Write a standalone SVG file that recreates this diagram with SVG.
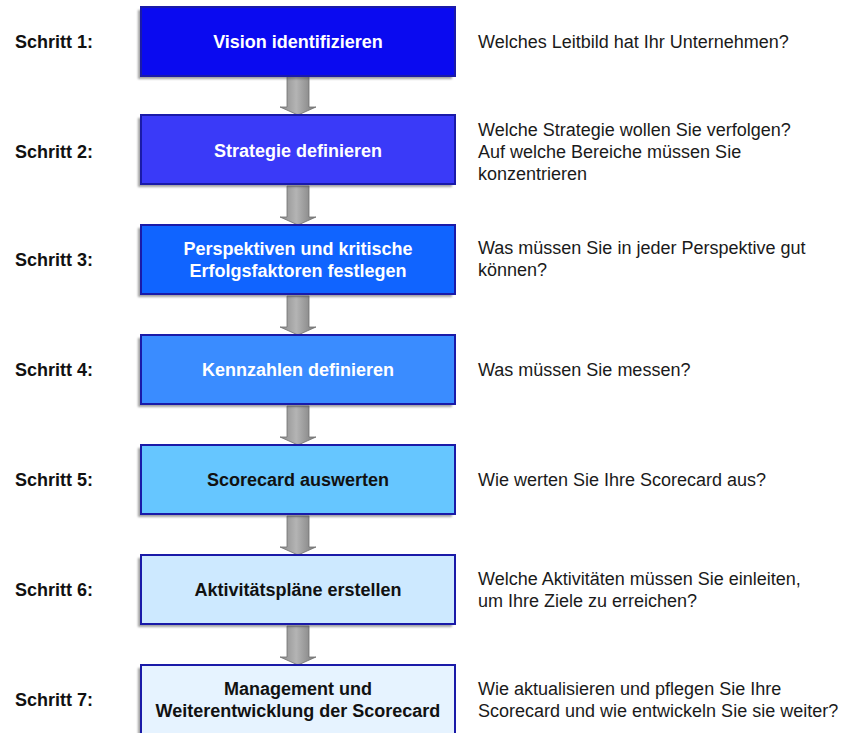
<svg xmlns="http://www.w3.org/2000/svg" width="846" height="733" viewBox="0 0 846 733">
  <defs>
    <linearGradient id="arrowFill" x1="0" y1="0" x2="1" y2="0">
      <stop offset="0" stop-color="#8a8a8a"/>
      <stop offset="0.45" stop-color="#b4b4b4"/>
      <stop offset="1" stop-color="#7a7a7a"/>
    </linearGradient>
    <filter id="soft" x="-10%" y="-20%" width="120%" height="140%">
      <feGaussianBlur stdDeviation="1.2"/>
    </filter>
    <path id="arrow" d="M-11,0 H11 V31 H18 L0,39 L-18,31 H-11 Z"/>
  </defs>
  <style>
    .step { font-family: "Liberation Sans", Arial, sans-serif; font-size: 18px; font-weight: bold; fill: #111; }
    .box-label { font-family: "Liberation Sans", Arial, sans-serif; font-size: 18px; font-weight: bold; text-anchor: middle; }
    .light { fill: #ffffff; }
    .dark { fill: #111111; }
    .question { font-family: "Liberation Sans", Arial, sans-serif; font-size: 18px; fill: #1a1a1a; }
    .shadow { fill: #555; opacity: 0.55; filter: url(#soft); }
    .frame { stroke: #1a1aa8; stroke-width: 2; }
    .arrow { fill: url(#arrowFill); stroke: #6e6e6e; stroke-width: 0.8; }
  </style>

  <rect width="846" height="733" fill="#ffffff"/>

  <!-- connectors between steps -->
  <g id="connectors">
    <use href="#arrow" class="arrow" x="298" y="76"/>
    <use href="#arrow" class="arrow" x="298" y="186"/>
    <use href="#arrow" class="arrow" x="298" y="296"/>
    <use href="#arrow" class="arrow" x="298" y="406"/>
    <use href="#arrow" class="arrow" x="298" y="516"/>
    <use href="#arrow" class="arrow" x="298" y="626"/>
  </g>

  <g id="step1">
    <text class="step" x="15" y="48">Schritt 1:</text>
    <rect class="shadow" x="138" y="10" width="314" height="69"/>
    <rect class="frame" x="141" y="7" width="314" height="69" fill="#0a0af0"/>
    <text class="box-label light" x="298" y="48">Vision identifizieren</text>
    <text class="question" x="478" y="48">Welches Leitbild hat Ihr Unternehmen?</text>
  </g>

  <g id="step2">
    <text class="step" x="15" y="158">Schritt 2:</text>
    <rect class="shadow" x="138" y="118" width="314" height="69"/>
    <rect class="frame" x="141" y="115" width="314" height="69" fill="#3a3af8"/>
    <text class="box-label light" x="298" y="157">Strategie definieren</text>
    <text class="question" x="478" y="136">Welche Strategie wollen Sie verfolgen?</text>
    <text class="question" x="478" y="158">Auf welche Bereiche müssen Sie</text>
    <text class="question" x="478" y="180">konzentrieren</text>
  </g>

  <g id="step3">
    <text class="step" x="15" y="266">Schritt 3:</text>
    <rect class="shadow" x="138" y="228" width="314" height="69"/>
    <rect class="frame" x="141" y="225" width="314" height="69" fill="#1064ff"/>
    <text class="box-label light" x="298" y="255">Perspektiven und kritische</text>
    <text class="box-label light" x="298" y="277">Erfolgsfaktoren festlegen</text>
    <text class="question" x="478" y="254">Was müssen Sie in jeder Perspektive gut</text>
    <text class="question" x="478" y="276">können?</text>
  </g>

  <g id="step4">
    <text class="step" x="15" y="376">Schritt 4:</text>
    <rect class="shadow" x="138" y="338" width="314" height="69"/>
    <rect class="frame" x="141" y="335" width="314" height="69" fill="#3a8cff"/>
    <text class="box-label light" x="298" y="376">Kennzahlen definieren</text>
    <text class="question" x="478" y="376">Was müssen Sie messen?</text>
  </g>

  <g id="step5">
    <text class="step" x="15" y="486">Schritt 5:</text>
    <rect class="shadow" x="138" y="448" width="314" height="69"/>
    <rect class="frame" x="141" y="445" width="314" height="69" fill="#66c6ff"/>
    <text class="box-label dark" x="298" y="486">Scorecard auswerten</text>
    <text class="question" x="478" y="486">Wie werten Sie Ihre Scorecard aus?</text>
  </g>

  <g id="step6">
    <text class="step" x="15" y="596">Schritt 6:</text>
    <rect class="shadow" x="138" y="558" width="314" height="69"/>
    <rect class="frame" x="141" y="555" width="314" height="69" fill="#cde9ff"/>
    <text class="box-label dark" x="298" y="596">Aktivitätspläne erstellen</text>
    <text class="question" x="478" y="585">Welche Aktivitäten müssen Sie einleiten,</text>
    <text class="question" x="478" y="607">um Ihre Ziele zu erreichen?</text>
  </g>

  <g id="step7">
    <text class="step" x="15" y="706">Schritt 7:</text>
    <rect class="shadow" x="138" y="668" width="314" height="69"/>
    <rect class="frame" x="141" y="665" width="314" height="69" fill="#e6f3ff"/>
    <text class="box-label dark" x="298" y="695">Management und</text>
    <text class="box-label dark" x="298" y="717">Weiterentwicklung der Scorecard</text>
    <text class="question" x="478" y="695">Wie aktualisieren und pflegen Sie Ihre</text>
    <text class="question" x="478" y="717">Scorecard und wie entwickeln Sie sie weiter?</text>
  </g>
</svg>
